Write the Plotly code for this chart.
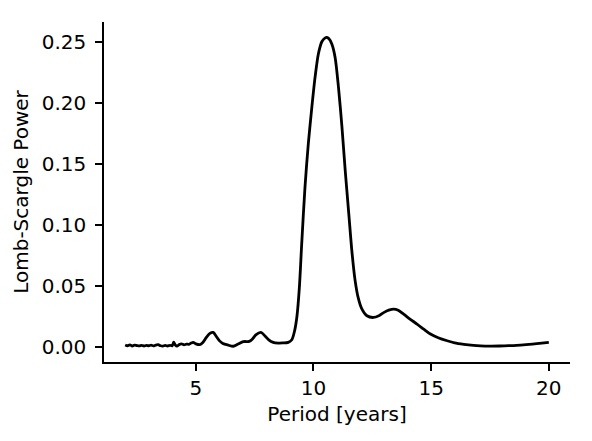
import plotly.graph_objects as go

period = [2.0, 2.1, 2.2, 2.3, 2.4, 2.5, 2.6, 2.7, 2.8, 2.9, 3.0, 3.1, 3.2, 3.3, 3.4, 3.5, 3.6, 3.7, 3.8, 3.9,
          4.0, 4.06, 4.13, 4.2, 4.3, 4.39, 4.5, 4.6, 4.7, 4.8, 4.89, 5.0, 5.17, 5.3, 5.45, 5.6, 5.74, 5.88,
          6.0, 6.15, 6.38, 6.59, 6.8, 7.02, 7.27, 7.4, 7.55, 7.77, 7.95, 8.1, 8.29, 8.5, 8.7, 8.93, 9.08,
          9.2, 9.3, 9.4, 9.5, 9.64, 9.78, 9.93, 10.07, 10.21, 10.36, 10.5, 10.57, 10.65, 10.78, 10.92,
          11.06, 11.21, 11.35, 11.5, 11.63, 11.77, 11.9, 12.05, 12.27, 12.55, 12.8, 13.0, 13.2, 13.41,
          13.6, 13.83, 14.1, 14.4, 14.7, 14.97, 15.3, 15.68, 16.0, 16.39, 16.8, 17.1, 17.5, 17.9, 18.3,
          18.8, 19.3, 19.7, 20.0]

power = [0.0012, 0.0006, 0.0014, 0.0004, 0.0012, 0.0008, 0.0005, 0.0010, 0.0004, 0.0009, 0.0006, 0.0011,
         0.0005, 0.0012, 0.0015, 0.0006, 0.0003, 0.0009, 0.0004, 0.0010,
         0.0006, 0.0035, 0.0012, 0.0003, 0.0016, 0.0022, 0.0014, 0.0020, 0.0018, 0.0028, 0.0034, 0.0022,
         0.0015, 0.0032, 0.0075, 0.0108, 0.0116, 0.0080,
         0.0048, 0.0025, 0.0011, 0.0002, 0.0020, 0.0040, 0.0042, 0.0060, 0.0095, 0.0116, 0.0085, 0.0055,
         0.0034, 0.0028, 0.0029, 0.0034, 0.0055,
         0.0130, 0.0250, 0.0480, 0.0840, 0.1306, 0.1660, 0.1960, 0.2210, 0.2400, 0.2500, 0.2530, 0.2533,
         0.2525, 0.2480, 0.2370,
         0.2130, 0.1800, 0.1440, 0.1090, 0.0786, 0.0540, 0.0400, 0.0310, 0.0252, 0.0238, 0.0255, 0.0280,
         0.0298, 0.0307,
         0.0298, 0.0266, 0.0225, 0.0184, 0.0140, 0.0102, 0.0072, 0.0047, 0.0030, 0.0018, 0.0009, 0.0005,
         0.0003, 0.0004, 0.0007,
         0.0012, 0.0020, 0.0028, 0.0034]

x_ticks = [5, 10, 15, 20]
y_ticks = [0.00, 0.05, 0.10, 0.15, 0.20, 0.25]

font = dict(family="DejaVu Sans", size=20, color="black")

fig = go.Figure()
fig.add_trace(go.Scatter(x=period, y=power, mode="lines",
                         line=dict(color="black", width=2.8, shape="spline", smoothing=0.8),
                         showlegend=False, hoverinfo="skip"))

axis_common = dict(showgrid=False, zeroline=False, showline=True, linecolor="black", linewidth=1.6,
                   ticks="outside", ticklen=7, tickwidth=1.6, tickcolor="black", tickfont=font,
                   mirror=False)

fig.update_layout(
    width=592, height=441,
    margin=dict(l=104, r=22, t=22, b=79),
    paper_bgcolor="white", plot_bgcolor="white",
    font=font,
    xaxis=dict(range=[1.1, 20.9], tickvals=x_ticks, ticktext=[str(v) for v in x_ticks],
               title=dict(text="Period [years]", font=font, standoff=8), **axis_common),
    yaxis=dict(range=[-0.0127, 0.2660], tickvals=y_ticks, ticktext=[f"{v:.2f}" for v in y_ticks],
               ticklabelstandoff=5,
               title=dict(text="Lomb-Scargle Power", font=font, standoff=8), **axis_common),
)

fig.write_html("out.html")
